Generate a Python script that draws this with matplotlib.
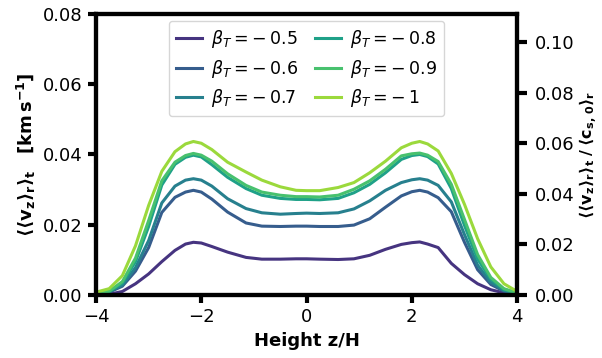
import numpy as np
import matplotlib
matplotlib.use("Agg")
import matplotlib.pyplot as plt

# height grid z/H
z = [-4.0, -3.75, -3.5, -3.25, -3.0, -2.75, -2.5, -2.3, -2.15, -2.0, -1.8, -1.5,
     -1.15, -0.85, -0.5, -0.2, 0.0, 0.25, 0.6, 0.9, 1.2, 1.5, 1.8, 2.0, 2.15, 2.3,
     2.5, 2.75, 3.0, 3.25, 3.5, 3.75, 4.0]

betas = ["-0.5", "-0.6", "-0.7", "-0.8", "-0.9", "-1"]

vz_05 = [0.0001, 0.0002, 0.0010, 0.0032, 0.0060, 0.0095, 0.0127, 0.0145, 0.0150,
         0.0148, 0.0138, 0.0122, 0.0107, 0.0102, 0.0102, 0.0103, 0.0103,
         0.0102, 0.0101, 0.0103, 0.0113, 0.0130, 0.0144, 0.0149, 0.0151, 0.0145,
         0.0135, 0.0090, 0.0058, 0.0032, 0.0015, 0.0006, 0.0001]
vz_06 = [0.0003, 0.0008, 0.0025, 0.0068, 0.0135, 0.0235, 0.0278, 0.0293, 0.0298,
         0.0293, 0.0273, 0.0236, 0.0205, 0.0196, 0.0195, 0.0196, 0.0196,
         0.0195, 0.0195, 0.0199, 0.0217, 0.0250, 0.0282, 0.0294, 0.0298, 0.0293,
         0.0277, 0.0237, 0.0150, 0.0072, 0.0030, 0.0011, 0.0003]
vz_07 = [0.0004, 0.0009, 0.0028, 0.0078, 0.0155, 0.0262, 0.0310, 0.0327, 0.0331,
         0.0327, 0.0310, 0.0274, 0.0246, 0.0234, 0.0230, 0.0232, 0.0233,
         0.0232, 0.0234, 0.0245, 0.0268, 0.0298, 0.0320, 0.0328, 0.0331, 0.0327,
         0.0312, 0.0265, 0.0172, 0.0085, 0.0036, 0.0013, 0.0004]
vz_08 = [0.0005, 0.0010, 0.0034, 0.0095, 0.0195, 0.0313, 0.0372, 0.0392, 0.0398,
         0.0393, 0.0371, 0.0335, 0.0303, 0.0284, 0.0275, 0.0272, 0.0272,
         0.0271, 0.0275, 0.0291, 0.0315, 0.0348, 0.0386, 0.0397, 0.0400, 0.0394,
         0.0373, 0.0303, 0.0198, 0.0102, 0.0045, 0.0016, 0.0005]
vz_09 = [0.0005, 0.0011, 0.0038, 0.0105, 0.0212, 0.0325, 0.0378, 0.0397, 0.0403,
         0.0398, 0.0381, 0.0345, 0.0312, 0.0293, 0.0284, 0.0280, 0.0280,
         0.0279, 0.0284, 0.0301, 0.0325, 0.0358, 0.0396, 0.0402, 0.0404, 0.0398,
         0.0380, 0.0315, 0.0215, 0.0115, 0.0050, 0.0018, 0.0006]
vz_10 = [0.0008, 0.0018, 0.0055, 0.0140, 0.0255, 0.0352, 0.0408, 0.0430, 0.0437,
         0.0432, 0.0414, 0.0378, 0.0350, 0.0327, 0.0308, 0.0298, 0.0297,
         0.0297, 0.0306, 0.0320, 0.0348, 0.0381, 0.0419, 0.0432, 0.0437, 0.0430,
         0.0410, 0.0346, 0.0258, 0.0160, 0.0080, 0.0032, 0.0010]

profiles = [vz_05, vz_06, vz_07, vz_08, vz_09, vz_10]

# mean sound speed used for the right-hand axis (km/s)
cs0 = 0.719

colors = plt.cm.viridis(np.linspace(0.15, 0.85, len(betas)))

fig = plt.figure(figsize=(6.02, 3.58), dpi=100)
ax = fig.add_axes([0.1595, 0.176, 0.6995, 0.785])

for b, v, c in zip(betas, profiles, colors):
    # old-style mathtext spacing: "= - 0.5"
    lab = r"$\beta_T = -\:" + b.lstrip("-") + "$"
    ax.plot(z, v, color=c, lw=2.2, label=lab)

ax.set_xlim(-4, 4)
ax.set_ylim(0, 0.08)
ax.set_xticks([-4, -2, 0, 2, 4])
ax.set_yticks([0, 0.02, 0.04, 0.06, 0.08])
ax.set_xlabel("Height z/H", fontsize=13, fontweight="bold")
ax.set_ylabel(r"$\mathbf{\langle\langle v_z\rangle_r\rangle_t}$   $\mathbf{[km\,s^{-1}]}$",
              fontsize=13)

ax2 = ax.twinx()
ax2.set_ylim(0, 0.08 / cs0)
ax2.set_yticks([0, 0.02, 0.04, 0.06, 0.08, 0.10])
ax2.set_ylabel(r"$\mathbf{\langle\langle v_z\rangle_r\rangle_t\;/\;\langle c_{s,\,0}\rangle_r}$",
               fontsize=11.5, labelpad=2)

for a in (ax, ax2):
    for s in a.spines.values():
        s.set_linewidth(3)
    a.tick_params(width=3, length=6, labelsize=13)
ax2.tick_params(length=7, pad=6)

ax.legend(loc="upper center", ncol=2, fontsize=12.5, handlelength=1.5,
          columnspacing=1.0, handletextpad=0.5, labelspacing=0.45,
          borderaxespad=0.4)

fig.savefig("out.png", dpi=100)
